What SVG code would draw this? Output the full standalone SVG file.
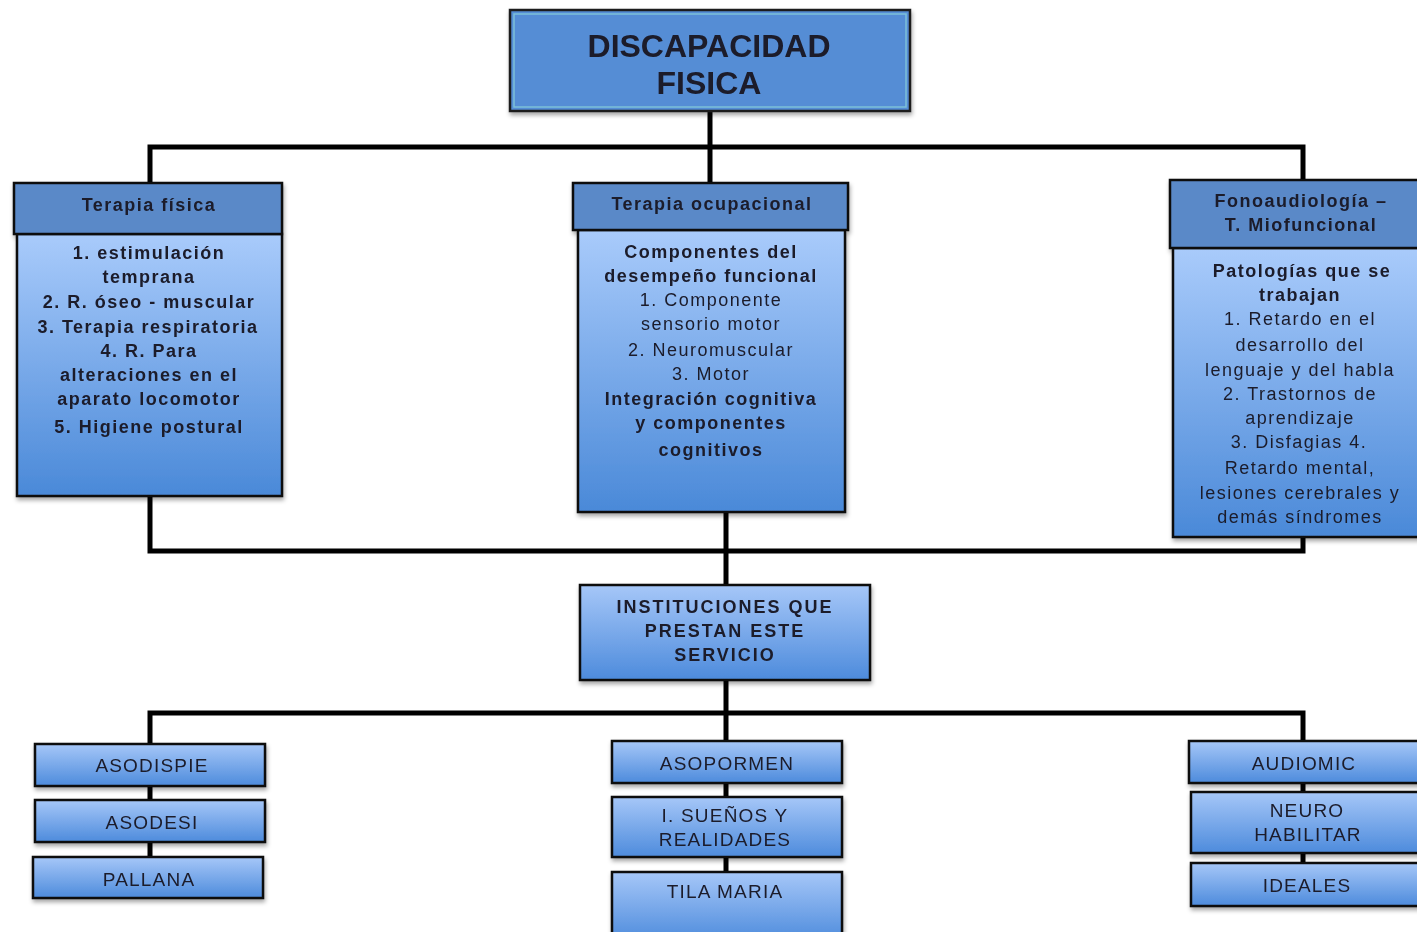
<svg xmlns="http://www.w3.org/2000/svg" width="1417" height="932" viewBox="0 0 1417 932">
<defs>
<linearGradient id="gBody" x1="0" y1="0" x2="0" y2="1">
<stop offset="0" stop-color="#a9cbfb"/>
<stop offset="1" stop-color="#4a89d8"/>
</linearGradient>
<linearGradient id="gSmall" x1="0" y1="0" x2="0" y2="1">
<stop offset="0" stop-color="#a6c7f8"/>
<stop offset="1" stop-color="#4d8bdc"/>
</linearGradient>
<filter id="sh" x="-10%" y="-10%" width="120%" height="130%">
<feDropShadow dx="1" dy="3" stdDeviation="2" flood-color="#000" flood-opacity="0.35"/>
</filter>
</defs>
<style>
.hdr{fill:#5a89c8;stroke:#111;stroke-width:2.5}
.body{fill:url(#gBody);stroke:#111;stroke-width:2.5}
.sm{fill:url(#gSmall);stroke:#111;stroke-width:2.5}
text{font-family:"Liberation Sans",Arial,sans-serif;fill:#1b1b2a;text-anchor:middle}
.b{font-weight:bold}
.t17{font-size:18px;letter-spacing:1.5px}
.t18{font-size:18px;letter-spacing:2px}
.lbl{font-size:19px;font-weight:normal;letter-spacing:1.2px}
.conn{stroke:#000;stroke-width:5;fill:none}
</style>
<rect width="1417" height="932" fill="#fff"/>
<g id="connectors">
<path class="conn" d="M710 111 V147 M150 183 V147 H1303 V180 M710 147 V183"/>
<path class="conn" d="M150 496 V551 H1303 V537 M726 512 V585"/>
<path class="conn" d="M726 680 V713 M150 744 V713 H1303 V741 M726 713 V741"/>
<path class="conn" d="M150 786 V800 M150 842 V857"/>
<path class="conn" d="M726 783 V797 M726 857 V872"/>
<path class="conn" d="M1303 783 V792 M1303 853 V863"/>
</g>
<g id="n-discapacidad" filter="url(#sh)">
<rect x="510" y="10" width="400" height="101" fill="#558dd5" stroke="#1a1a1a" stroke-width="2.5"/>
<rect x="514" y="14" width="392" height="93" fill="none" stroke="#7cc0d8" stroke-width="1.5"/>
<text x="709" y="57" class="b" font-size="32">DISCAPACIDAD</text>
<text x="709" y="94" class="b" font-size="32">FISICA</text>
</g>
<g id="n-terapia-fisica" filter="url(#sh)">
<rect class="body" x="17" y="234" width="265" height="262"/>
<rect class="hdr" x="14" y="183" width="268" height="51"/>
<text x="149" y="211" class="b t17">Terapia física</text>
<text class="b t17" x="149" y="259">1. estimulación</text>
<text class="b t17" x="149" y="283">temprana</text>
<text class="b t17" x="149" y="308">2. R. óseo - muscular</text>
<text class="b t17" x="148" y="333">3. Terapia respiratoria</text>
<text class="b t17" x="149" y="357">4. R. Para</text>
<text class="b t17" x="149" y="381">alteraciones en el</text>
<text class="b t17" x="149" y="405">aparato locomotor</text>
<text class="b t17" x="149" y="433">5. Higiene postural</text>
</g>
<g id="n-terapia-ocupacional" filter="url(#sh)">
<rect class="body" x="578" y="230" width="267" height="282"/>
<rect class="hdr" x="573" y="183" width="275" height="47"/>
<text x="712" y="210" class="b t17">Terapia ocupacional</text>
<text class="b t17" x="711" y="258">Componentes del</text>
<text class="b t17" x="711" y="282">desempeño funcional</text>
<text class="t17" x="711" y="306">1. Componente</text>
<text class="t17" x="711" y="330">sensorio motor</text>
<text class="t17" x="711" y="356">2. Neuromuscular</text>
<text class="t17" x="711" y="380">3. Motor</text>
<text class="b t17" x="711" y="405">Integración cognitiva</text>
<text class="b t17" x="711" y="429">y componentes</text>
<text class="b t17" x="711" y="456">cognitivos</text>
</g>
<g id="n-fonoaudiologia" filter="url(#sh)">
<rect class="body" x="1173" y="248" width="250" height="289"/>
<rect class="hdr" x="1170" y="180" width="253" height="68"/>
<text x="1301" y="207" class="b t17">Fonoaudiología –</text>
<text x="1301" y="231" class="b t17">T. Miofuncional</text>
<text class="b t17" x="1302" y="277">Patologías que se</text>
<text class="b t17" x="1300" y="301">trabajan</text>
<text class="t17" x="1300" y="325">1. Retardo en el</text>
<text class="t17" x="1300" y="351">desarrollo del</text>
<text class="t17" x="1300" y="376">lenguaje y del habla</text>
<text class="t17" x="1300" y="400">2. Trastornos de</text>
<text class="t17" x="1300" y="424">aprendizaje</text>
<text class="t17" x="1299" y="448">3. Disfagias  4.</text>
<text class="t17" x="1300" y="474">Retardo mental,</text>
<text class="t17" x="1300" y="499">lesiones cerebrales y</text>
<text class="t17" x="1300" y="523">demás síndromes</text>
</g>
<g id="n-instituciones" filter="url(#sh)">
<rect class="sm" x="580" y="585" width="290" height="95"/>
<text class="b t18" x="725" y="613">INSTITUCIONES QUE</text>
<text class="b t18" x="725" y="637">PRESTAN ESTE</text>
<text class="b t18" x="725" y="661">SERVICIO</text>
</g>
<g id="n-asodispie" filter="url(#sh)">
<rect class="sm" x="35" y="744" width="230" height="42"/>
<text class="lbl" x="152" y="772">ASODISPIE</text>
</g>
<g id="n-asodesi" filter="url(#sh)">
<rect class="sm" x="35" y="800" width="230" height="42"/>
<text class="lbl" x="152" y="829">ASODESI</text>
</g>
<g id="n-pallana" filter="url(#sh)">
<rect class="sm" x="33" y="857" width="230" height="41"/>
<text class="lbl" x="149" y="886">PALLANA</text>
</g>
<g id="n-asopormen" filter="url(#sh)">
<rect class="sm" x="612" y="741" width="230" height="42"/>
<text class="lbl" x="727" y="770">ASOPORMEN</text>
</g>
<g id="n-suenos" filter="url(#sh)">
<rect class="sm" x="612" y="797" width="230" height="60"/>
<text class="lbl" x="725" y="822">I. SUEÑOS Y</text>
<text class="lbl" x="725" y="846">REALIDADES</text>
</g>
<g id="n-tilamaria" filter="url(#sh)">
<rect class="sm" x="612" y="872" width="230" height="70"/>
<text class="lbl" x="725" y="898">TILA MARIA</text>
</g>
<g id="n-audiomic" filter="url(#sh)">
<rect class="sm" x="1189" y="741" width="232" height="42"/>
<text class="lbl" x="1304" y="770">AUDIOMIC</text>
</g>
<g id="n-neuro" filter="url(#sh)">
<rect class="sm" x="1191" y="792" width="230" height="61"/>
<text class="lbl" x="1307" y="817">NEURO</text>
<text class="lbl" x="1308" y="841">HABILITAR</text>
</g>
<g id="n-ideales" filter="url(#sh)">
<rect class="sm" x="1191" y="863" width="230" height="43"/>
<text class="lbl" x="1307" y="892">IDEALES</text>
</g>
</svg>
